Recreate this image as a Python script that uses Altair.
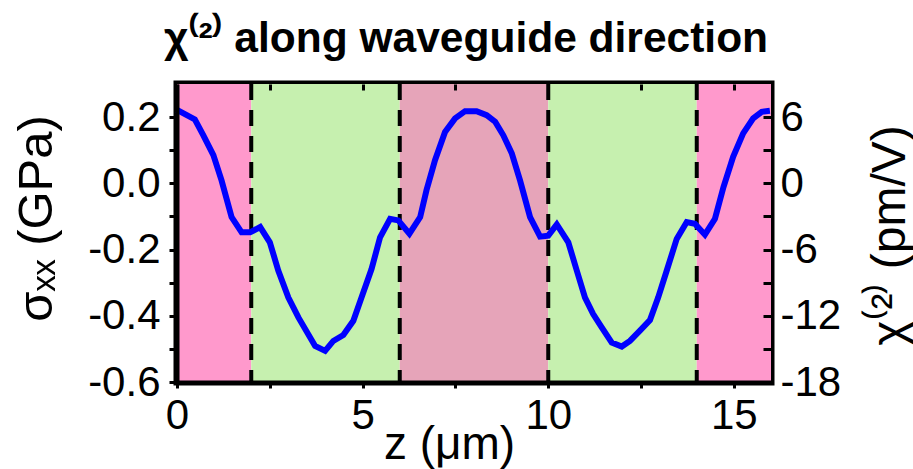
import altair as alt
import pandas as pd

# curve: stress sigma_xx (GPa) along z (um)
z = [0.0, 0.48, 0.71, 0.98, 1.2, 1.47, 1.74, 1.97, 2.24, 2.5, 2.73, 3.0, 3.27, 3.72, 3.99,
     4.21, 4.48, 4.75, 4.97, 5.24, 5.47, 5.74, 5.96, 6.26, 6.55, 6.72, 6.95, 7.22, 7.49,
     7.76, 8.07, 8.34, 8.57, 8.79, 9.02, 9.24, 9.51, 9.78, 10.0, 10.23, 10.54, 10.77,
     10.99, 11.21, 11.44, 11.71, 11.98, 12.2, 12.47, 12.74, 12.96, 13.19, 13.46, 13.73,
     13.95, 14.22, 14.49, 14.72, 14.98, 15.25, 15.52, 15.75, 15.97]
sigma = [0.222, 0.193, 0.145, 0.085, 0.009, -0.102, -0.148, -0.148, -0.132, -0.178,
         -0.264, -0.345, -0.405, -0.491, -0.506, -0.476, -0.458, -0.415, -0.345, -0.259,
         -0.163, -0.107, -0.112, -0.152, -0.102, -0.021, 0.070, 0.155, 0.196, 0.218,
         0.218, 0.206, 0.186, 0.145, 0.090, 0.009, -0.102, -0.161, -0.158, -0.124,
         -0.178, -0.264, -0.345, -0.395, -0.435, -0.481, -0.493, -0.476, -0.445, -0.413,
         -0.345, -0.264, -0.168, -0.117, -0.122, -0.155, -0.107, -0.011, 0.080, 0.151,
         0.196, 0.216, 0.219]

# background regions
band_start = [0, 2, 6, 10, 14]
band_end = [2, 6, 10, 14, 16]
band_kind = ["pink", "green", "mauve", "green", "pink"]
kind_names = ["pink", "green", "mauve"]
kind_colors = ["#FF99CC", "#C6F0AF", "#E6A4B9"]

# dashed boundaries
boundaries = [2, 6, 10, 14]

# axes
x_domain = [0, 16]
x_ticks = [0, 2.5, 5, 7.5, 10, 12.5, 15]
y_domain = [-0.6, 0.3]
y_ticks = [-0.6, -0.5, -0.4, -0.3, -0.2, -0.1, 0.0, 0.1, 0.2]
chi_domain = [-18, 9]
chi_ticks = [-18, -15, -12, -9, -6, -3, 0, 3, 6]

FONT = "Liberation Sans"

line_df = pd.DataFrame({"z": z, "sigma": sigma})
band_df = pd.DataFrame({"x0": band_start, "x1": band_end, "kind": band_kind})
rule_df = pd.DataFrame({"z": boundaries})
chi_df = pd.DataFrame({"z": [0] * len(chi_ticks), "chi": chi_ticks})

xscale = alt.Scale(domain=x_domain, nice=False, zero=False)

x_axis = alt.Axis(
    values=x_ticks,
    labelExpr="datum.value % 5 == 0 ? '' + datum.value : ''",
    tickSize=6, tickWidth=3, tickColor="black",
    labelPadding=7, labelFlush=False, labelOverlap=False, labelBound=False,
    domainWidth=4, domainColor="black", grid=False, zindex=1,
    title="z (μm)", titleX=272, titleY=76, titleAlign="center",
    titleBaseline="alphabetic",
)
y_axis = alt.Axis(
    values=y_ticks,
    labelExpr="round(datum.value*10) % 2 == 0 ? replace(format(datum.value, '.1f'), '\u2212', '-') : ''",
    tickSize=8, tickWidth=3, tickColor="black",
    labelPadding=9, labelFlush=False, labelOverlap=False, labelBound=False,
    domainWidth=4, domainColor="black", grid=False, zindex=1,
    title="σₓₓ (GPa)", titleAngle=270, titleX=-126, titleY=134,
    titleFontSize=49,
    titleAlign="center", titleBaseline="alphabetic",
)
chi_axis = alt.Axis(
    orient="right", values=chi_ticks,
    labelExpr="datum.value % 6 == 0 ? '' + datum.value : ''",
    offset=-8, tickSize=8, tickWidth=3, tickColor="black",
    labelPadding=9, labelFlush=False, labelOverlap=False, labelBound=False,
    domain=False, grid=False, zindex=1,
    title="χ⁽²⁾ (pm/V)", titleAngle=270, titleX=141, titleY=151,
    titleFontSize=48,
    titleAlign="center", titleBaseline="alphabetic",
)
top_axis = alt.Axis(
    orient="top", values=x_ticks, labels=False,
    offset=-6, tickSize=6, tickWidth=3, tickColor="black",
    domain=False, grid=False, zindex=1, title=None,
)

bands = alt.Chart(band_df).mark_rect().encode(
    x=alt.X("x0:Q", scale=xscale, axis=x_axis),
    x2="x1:Q",
    color=alt.Color("kind:N", scale=alt.Scale(domain=kind_names, range=kind_colors), legend=None),
)
rules = alt.Chart(rule_df).mark_rule(
    color="black", strokeWidth=4, strokeDash=[16, 10]
).encode(x=alt.X("z:Q", scale=xscale))
line = alt.Chart(line_df).mark_line(color="#0000FF", strokeWidth=6).encode(
    x=alt.X("z:Q", scale=xscale),
    y=alt.Y("sigma:Q", scale=alt.Scale(domain=y_domain, nice=False, zero=False), axis=y_axis),
)
main = alt.layer(bands, rules, line)

right = alt.Chart(chi_df).mark_point(opacity=0).encode(
    x=alt.X("z:Q", scale=xscale, axis=top_axis),
    y=alt.Y("chi:Q", scale=alt.Scale(domain=chi_domain, nice=False, zero=False), axis=chi_axis),
)

chart = alt.layer(main, right).resolve_scale(y="independent").resolve_axis(x="independent").properties(
    width=594, height=298,
    autosize=alt.AutoSizeParams(type="none"),
    padding={"left": 177, "top": 84, "right": 142, "bottom": 87},
    title=alt.Title(
        "χ⁽²⁾ along waveguide direction", font=FONT, fontSize=42.5, fontWeight="bold",
        color="black", anchor="middle", frame="group", baseline="alphabetic",
        offset=32, dx=-8, dy=44,
    ),
).configure_view(stroke="black", strokeWidth=7).configure_axis(
    labelFont=FONT, labelFontSize=42, labelColor="black",
    titleFont=FONT, titleFontSize=46, titleFontWeight="normal", titleColor="black",
)

chart.save("out.html", embed_options={"renderer": "svg", "actions": False})
